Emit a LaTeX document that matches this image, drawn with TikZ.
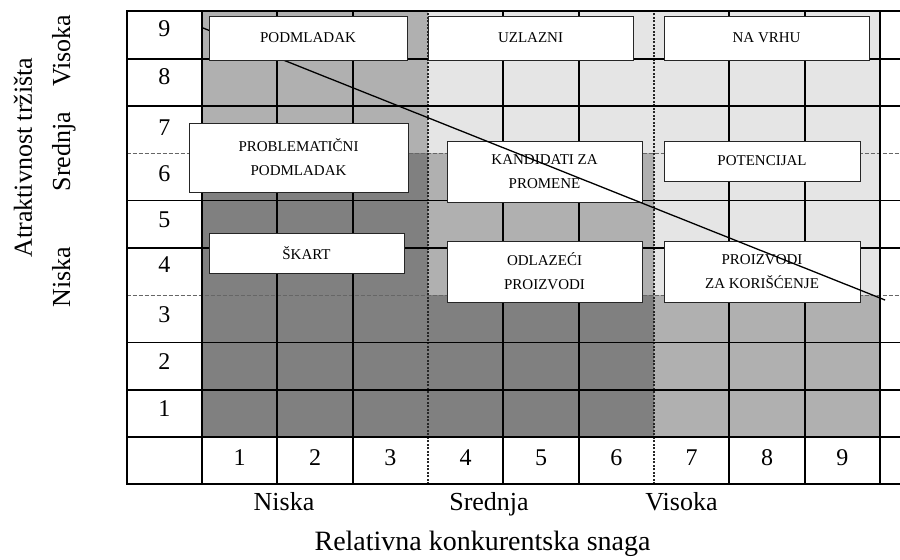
\documentclass[tikz,border=0pt]{standalone}
\usepackage{fontspec}
\setmainfont{Liberation Serif}
\definecolor{zonedark}{gray}{0.5}
\definecolor{zonemid}{gray}{0.69}
\definecolor{zonelight}{gray}{0.9}

\begin{document}
\begin{tikzpicture}[x=75.33pt, y=47.3pt,
  labelbox/.style={draw=black!85, line width=0.8pt, fill=white, inner sep=0pt, align=center, font=\fontsize{15}{24}\selectfont},
  num/.style={anchor=base, font=\fontsize{24}{24}\selectfont},
  level/.style={anchor=base, font=\fontsize{26}{26}\selectfont}]
\useasboundingbox (-2.6815,-2.579) rectangle (9.265,9.239);
\fill[zonedark] (0,0) rectangle (6,3);
\fill[zonedark] (0,3) rectangle (3,6);
\fill[zonemid] (6,0) rectangle (9,3);
\fill[zonemid] (3,3) rectangle (6,6);
\fill[zonemid] (0,6) rectangle (3,9);
\fill[zonelight] (6,3) rectangle (9,6);
\fill[zonelight] (3,6) rectangle (9,9);
\draw[black!60, line width=0.8pt, dash pattern=on 4pt off 2pt] (-1,3) -- (9.265,3) (-1,6) -- (9.265,6);
\draw[black!85, line width=1.2pt, dash pattern=on 2pt off 1.5pt] (3,-1) -- (3,9) (6,-1) -- (6,9);
\foreach \y in {-1,0,1,2,4,5,7,8,9}
  \draw[line width=1.8pt, line cap=rect] (-1,\y) -- (9.265,\y);
\foreach \x in {-1,0,1,2,4,5,7,8,9}
  \draw[line width=1.8pt, line cap=rect] (\x,-1) -- (\x,9);
\foreach \r/\yb in {9/8.457, 8/7.442, 7/6.364, 6/5.412, 5/4.440, 4/3.488, 3/2.431, 2/1.438, 1/0.444}
  \node[num] (row\r) at (-0.5,\yb) {\r};
\foreach \c in {1,...,9}
  \node[num] (col\c) at (\c-0.5,-0.592) {\c};
\node[level] (lowx) at (1.089,-1.543) {Niska};
\node[level] (midx) at (3.81,-1.543) {Srednja};
\node[level] (highx) at (6.365,-1.543) {Visoka};
\node[anchor=base, font=\fontsize{28}{28}\selectfont] (xtitle) at (3.724,-2.389) {Relativna konkurentska snaga};
\node[level, rotate=90] (highy) at (-1.752,8.171) {Visoka};
\node[level, rotate=90] (midy) at (-1.752,6.036) {Srednja};
\node[level, rotate=90] (lowy) at (-1.752,3.383) {Niska};
\node[level, rotate=90] (ytitle) at (-2.257,5.909) {Atraktivnost tržišta};
\node[labelbox, minimum width=219pt, minimum height=69pt] (problem) at (1.281,5.909) {PROBLEMATIČNI\\PODMLADAK};
\node[labelbox, minimum width=195pt, minimum height=61pt] (kandidati) at (4.547,5.613) {KANDIDATI ZA\\PROMENE};
\node[labelbox, minimum width=196pt, minimum height=40pt] (potencijal) at (7.434,5.835) {POTENCIJAL};
\node[labelbox, minimum width=195pt, minimum height=40pt] (skart) at (1.387,3.890) {ŠKART};
\node[labelbox, minimum width=195pt, minimum height=61pt] (odlazeci) at (4.547,3.499) {ODLAZEĆI\\PROIZVODI};
\node[labelbox, minimum width=196pt, minimum height=61pt] (koriscenje) at (7.434,3.499) {PROIZVODI\\ZA KORIŠĆENJE};
\coordinate (trendA) at (0.013,8.647);
\coordinate (trendB) at (9.067,2.896);
\draw[line width=1.3pt] (trendA) -- (trendB);
\node[labelbox, minimum width=198pt, minimum height=44pt] (podmladak) at (1.407,8.436) {PODMLADAK};
\node[labelbox, minimum width=205pt, minimum height=44pt] (uzlazni) at (4.361,8.436) {UZLAZNI};
\node[labelbox, minimum width=205pt, minimum height=44pt] (navrhu) at (7.494,8.436) {NA VRHU};
\end{tikzpicture}
\end{document}
